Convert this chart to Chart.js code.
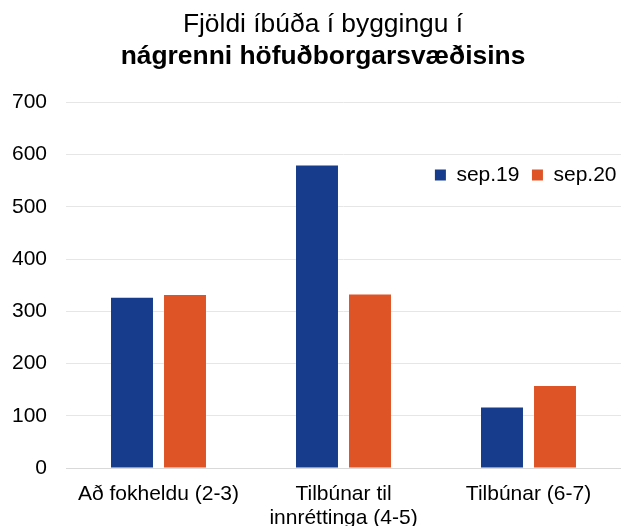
<!DOCTYPE html>
<html>
<head>
<meta charset="utf-8">
<script src="https://cdn.jsdelivr.net/npm/chart.js@4/dist/chart.umd.min.js"></script>
<style>
html,body{margin:0;padding:0;background:#fff;}
#c{display:block;}
</style>
</head>
<body>
<canvas id="c" width="621" height="526"></canvas>
<script>
const categories = ['Að fokheldu (2-3)', ['Tilbúnar til', 'innréttinga (4-5)'], 'Tilbúnar (6-7)'];
const seriesNames = ['sep.19', 'sep.20'];
const sep19 = [326, 579, 116];
const sep20 = [331, 332, 157];
const yTicks = [0, 100, 200, 300, 400, 500, 600, 700];

const FONT = "'Liberation Sans', Arial, sans-serif";
Chart.defaults.font.family = FONT;
Chart.defaults.color = '#000';

// place the library's legend inside the plot (upper right) and nudge the titles
const placeBoxes = {
  id: 'placeBoxes',
  afterUpdate(chart) {
    const lg = chart.legend;
    if (lg) {
      const dx = 5;
      lg.left += dx;
      lg.right += dx;
      lg.top = 152;
      lg.bottom = 152 + 46;
    }
    chart.boxes
      .filter(b => b.position === 'top' && b !== lg)
      .forEach(b => { b.left += 5; b.right += 5; });
  }
};

new Chart(document.getElementById('c'), {
  type: 'bar',
  data: {
    labels: categories,
    datasets: [
      { label: seriesNames[0], data: sep19, backgroundColor: '#173C8B', categoryPercentage: 0.573, barPercentage: 0.792 },
      { label: seriesNames[1], data: sep20, backgroundColor: '#DF5427', categoryPercentage: 0.573, barPercentage: 0.792 }
    ]
  },
  plugins: [placeBoxes],
  options: {
    responsive: false,
    animation: false,
    layout: { padding: { left: 12, right: -3, top: 0, bottom: 0 } },
    plugins: {
      title: {
        display: true,
        text: 'Fjöldi íbúða í byggingu í',
        font: { size: 26.4, weight: 'normal', family: FONT, lineHeight: 1.2 },
        color: '#000',
        padding: { top: 9, bottom: 0 }
      },
      subtitle: {
        display: true,
        text: 'nágrenni höfuðborgarsvæðisins',
        font: { size: 26.4, weight: 'bold', family: FONT, lineHeight: 1.2 },
        color: '#000',
        padding: { top: 0, bottom: 29 }
      },
      legend: {
        position: 'top',
        align: 'end',
        maxHeight: 1,
        labels: {
          boxWidth: 11,
          boxHeight: 11,
          padding: 12.5,
          color: '#000',
          font: { size: 21, family: FONT }
        }
      },
      tooltip: { enabled: false }
    },
    scales: {
      x: {
        grid: { display: false },
        border: { display: true, color: '#D9D9D9', width: 1 },
        afterFit: (scale) => { scale.paddingLeft = 0; scale.paddingRight = 0; scale.height = 58; },
        ticks: {
          color: '#000',
          padding: 6,
          maxRotation: 0,
          autoSkip: false,
          font: { size: 21, family: FONT, lineHeight: 1.15 }
        }
      },
      y: {
        min: 0,
        max: 700,
        afterBuildTicks: (axis) => { axis.ticks = yTicks.map(v => ({ value: v })); },
        afterFit: (scale) => { scale.width = 54; },
        grid: { color: '#E6E6E6', lineWidth: 1, drawTicks: false },
        border: { display: false },
        ticks: {
          color: '#000',
          padding: 19,
          font: { size: 21, family: FONT }
        }
      }
    }
  }
});
</script>
</body>
</html>
